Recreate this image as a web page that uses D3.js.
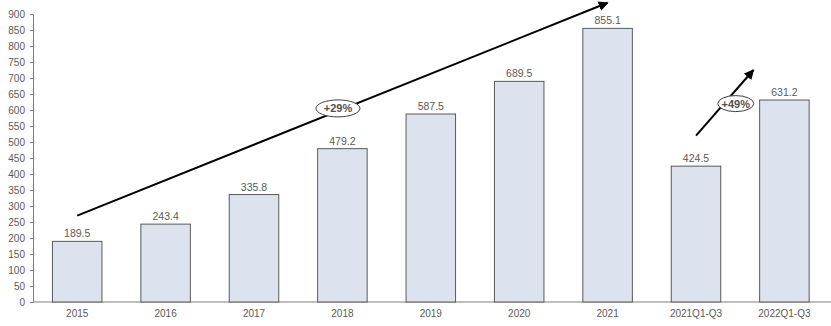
<!DOCTYPE html>
<html>
<head>
<meta charset="utf-8">
<script src="https://cdn.jsdelivr.net/npm/d3@7"></script>
<style>
  body { margin: 0; background: #fff; }
  text { font-family: "Liberation Sans", Arial, sans-serif; fill: #595959; }
</style>
</head>
<body>
<script>
// categories and values
var categories = ['2015', '2016', '2017', '2018', '2019', '2020', '2021', '2021Q1-Q3', '2022Q1-Q3']
var values = [189.5, 243.4, 335.8, 479.2, 587.5, 689.5, 855.1, 424.5, 631.2]
var yTicks = [0, 50, 100, 150, 200, 250, 300, 350, 400, 450, 500, 550, 600, 650, 700, 750, 800, 850, 900]

// growth arrows: [category, value] start and end, plus label
var arrowLong = { from: ['2015', 270], to: ['2021', 935], label: '+29%', at: [2.95, 605] }
var arrowShort = { from: ['2021Q1-Q3', 520], to: [7.65, 725], label: '+49%', at: [7.45, 620] }

var width = 831
var height = 326
var margin = { top: 14, right: 2, bottom: 24, left: 33 }

var svg = d3.select('body').append('svg')
  .attr('width', width)
  .attr('height', height)

var xScale = d3.scaleBand()
  .domain(categories)
  .range([margin.left, margin.left + 88.4 * categories.length])
  .paddingInner(0.44)
  .paddingOuter(0.22)

var yScale = d3.scaleLinear()
  .domain([0, 900])
  .range([height - margin.bottom, margin.top])

// position helper: category name or fractional index
const xPos = (c) => {
  if (typeof c === 'number') {
    return xScale(categories[0]) + xScale.bandwidth() / 2 + c * xScale.step()
  }
  return xScale(c) + xScale.bandwidth() / 2
}

// y axis
let yAxis = d3.axisLeft(yScale).tickValues(yTicks).tickSize(3).tickSizeOuter(0)
let gy = svg.append('g')
  .attr('transform', 'translate(' + margin.left + ',0)')
  .call(yAxis)
gy.selectAll('text').style('font-size', '10px').attr('dx', '-2')
gy.select('.domain').attr('stroke', '#7f7f7f')
gy.selectAll('line').attr('stroke', '#7f7f7f')

// x axis
let xAxis = d3.axisBottom(xScale).tickSize(0).tickSizeOuter(0)
let gx = svg.append('g')
  .attr('transform', 'translate(0,' + yScale(0) + ')')
  .call(xAxis)
gx.selectAll('text').style('font-size', '10px').attr('dy', '1.2em')
gx.select('.domain').attr('stroke', '#7f7f7f').attr('d', 'M' + margin.left + ',0H' + width)

// bars
svg.selectAll('rect.bar')
  .data(values)
  .enter()
  .append('rect')
  .attr('class', 'bar')
  .attr('x', (d, i) => xScale(categories[i]))
  .attr('y', (d) => yScale(d))
  .attr('width', xScale.bandwidth())
  .attr('height', (d) => yScale(0) - yScale(d))
  .attr('fill', '#dde3ee')
  .attr('stroke', '#595959')
  .attr('stroke-width', 1)

// value labels
svg.selectAll('text.val')
  .data(values)
  .enter()
  .append('text')
  .attr('class', 'val')
  .attr('x', (d, i) => xPos(categories[i]))
  .attr('y', (d) => yScale(d) - 4)
  .attr('text-anchor', 'middle')
  .style('font-size', '10.5px')
  .text((d) => d.toFixed(1))

// arrow marker
svg.append('defs').append('marker')
  .attr('id', 'head')
  .attr('viewBox', '0 0 10 10')
  .attr('refX', 9)
  .attr('refY', 5)
  .attr('markerWidth', 5)
  .attr('markerHeight', 5)
  .attr('orient', 'auto')
  .append('path')
  .attr('d', 'M0,0L10,5L0,10z')
  .attr('fill', '#000')

const drawArrow = (a, rx, ry) => {
  svg.append('line')
    .attr('x1', xPos(a.from[0]))
    .attr('y1', yScale(a.from[1]))
    .attr('x2', xPos(a.to[0]))
    .attr('y2', yScale(a.to[1]))
    .attr('stroke', '#000')
    .attr('stroke-width', 2)
    .attr('marker-end', 'url(#head)')
  let cx = xPos(a.at[0])
  let cy = yScale(a.at[1])
  svg.append('ellipse')
    .attr('cx', cx)
    .attr('cy', cy)
    .attr('rx', rx)
    .attr('ry', ry)
    .attr('fill', '#fff')
    .attr('stroke', '#404040')
    .attr('stroke-width', 1)
  svg.append('text')
    .attr('x', cx)
    .attr('y', cy + 4)
    .attr('text-anchor', 'middle')
    .style('font-size', '11px')
    .style('font-weight', 'bold')
    .style('fill', '#505050')
    .text(a.label)
}

drawArrow(arrowLong, 22, 8.5)
drawArrow(arrowShort, 18, 8)
</script>
</body>
</html>
